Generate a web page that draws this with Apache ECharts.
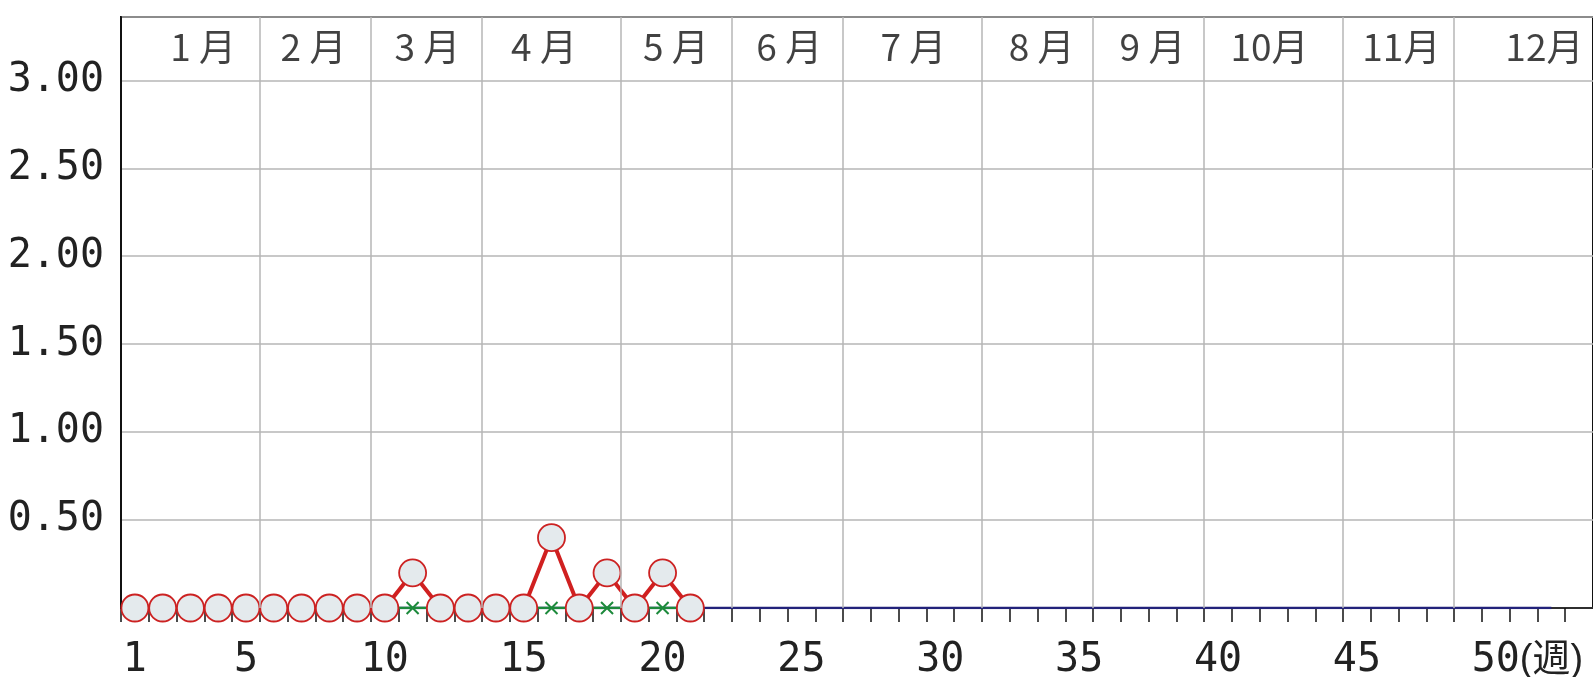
<!DOCTYPE html>
<html>
<head>
<meta charset="utf-8">
<script src="https://cdn.jsdelivr.net/npm/echarts@6/dist/echarts.min.js"></script>
<style>
html,body{margin:0;padding:0;background:#fff;}
#chart{width:1593px;height:677px;}
</style>
</head>
<body>
<div id="chart"></div>
<script>
// ---- data ----
var redValues   = [0,0,0,0,0,0,0,0,0,0,0.2,0,0,0,0,0.4,0,0.2,0,0.2,0];
var greenValues = [0,0,0,0,0,0,0,0,0,0,0,0,0,0,0,0,0,0,0,0,0];
var blueValues  = [0,0,0,0,0,0,0,0,0,0,0,0,0,0,0,0,0,0,0,0,0,0,0,0,0,0,
                   0,0,0,0,0,0,0,0,0,0,0,0,0,0,0,0,0,0,0,0,0,0,0,0,0,0];
var weekLabels  = [1,5,10,15,20,25,30,35,40,45,50];
var valueLabels = [0.5,1.0,1.5,2.0,2.5,3.0];
var monthNames  = ['1 月','2 月','3 月','4 月','5 月','6 月','7 月','8 月','9 月','10月','11月','12月'];
var monthLabelWeek = [3.46,7.43,11.53,15.73,20.48,24.56,29.03,33.65,37.64,41.85,46.6,51.75];
var monthBoundaries = [5.5,9.5,13.5,18.5,22.5,26.5,31.5,35.5,39.5,44.5,48.5];
var monthLabelLevel = 3.19;

function pairs(vals){ return vals.map(function(v,i){ return [i+1, v]; }); }
var tickWeeks = [];
for (var t = 0.5; t <= 52.5; t += 1) tickWeeks.push(t);

var numFont = "'DejaVu Sans Mono', monospace";
var cjkFont = "'Noto Sans CJK JP', sans-serif";
var unitFont = "'Liberation Sans', 'Noto Sans CJK JP', sans-serif";

var chart = echarts.init(document.getElementById('chart'));
chart.setOption({
  animation: false,
  backgroundColor: '#ffffff',
  grid: {left: 121, right: 0, top: 17, bottom: 69, show: true, borderColor: '#111', borderWidth: 2,
         containLabel: false, outerBoundsMode: 'none'},
  xAxis: {
    type: 'value', min: 0.5, max: 53.5,
    axisLine: {show: true, onZero: false, lineStyle: {color: '#111', width: 1.5}},
    axisTick: {show: true, length: 14, customValues: tickWeeks, lineStyle: {color: '#111', width: 1.5}},
    splitLine: {show: false},
    axisLabel: {
      show: true, customValues: weekLabels, margin: 33,
      fontFamily: numFont, fontSize: 40, color: '#222',
      formatter: function(v){ return v === 50 ? '{h|(週)}50{n|(週)}' : String(v); },
      rich: {
        h: {color: 'rgba(0,0,0,0)', fontFamily: unitFont, fontSize: 38},
        n: {color: '#222', fontFamily: unitFont, fontSize: 38}
      }
    }
  },
  yAxis: {
    type: 'value', min: 0, max: 3.36, interval: 0.5,
    axisLine: {show: true, lineStyle: {color: '#111', width: 2}},
    axisTick: {show: false},
    splitLine: {show: true, lineStyle: {color: '#b6b6b6', width: 1.5}},
    axisLabel: {
      margin: 17, fontFamily: numFont, fontSize: 40, color: '#222',
      customValues: valueLabels,
      formatter: function(v){ return v.toFixed(2); }
    }
  },
  series: [
    {
      type: 'line', data: [], z: 0, silent: true,
      markLine: {
        silent: true, symbol: 'none', animation: false,
        label: {show: false},
        lineStyle: {color: '#b6b6b6', width: 1.5, type: 'solid'},
        data: monthBoundaries.map(function(b){ return {xAxis: b}; })
      }
    },
    {
      type: 'scatter', z: 1, silent: true, symbolSize: 0,
      data: monthNames.map(function(n,i){ return {name: n, value: [monthLabelWeek[i], monthLabelLevel]}; }),
      label: {show: true, position: 'inside', formatter: '{b}', fontFamily: cjkFont, fontSize: 37, color: '#111'}
    },
    {
      type: 'line', z: 2, data: pairs(blueValues), symbol: 'none',
      lineStyle: {color: '#22227a', width: 2.5}
    },
    {
      type: 'line', z: 3, data: pairs(greenValues),
      symbol: 'path://M0,0L10,10M10,0L0,10', symbolSize: 12,
      itemStyle: {color: 'rgba(0,0,0,0)', borderColor: '#1d8a3c', borderWidth: 2},
      lineStyle: {color: '#1d8a3c', width: 2.5}
    },
    {
      type: 'line', z: 4, data: pairs(redValues),
      symbol: 'circle', symbolSize: 27, showAllSymbol: true,
      itemStyle: {color: '#e4eaed', borderColor: '#cc2222', borderWidth: 1.8},
      lineStyle: {color: '#d02020', width: 4}
    }
  ]
});
</script>
</body>
</html>
